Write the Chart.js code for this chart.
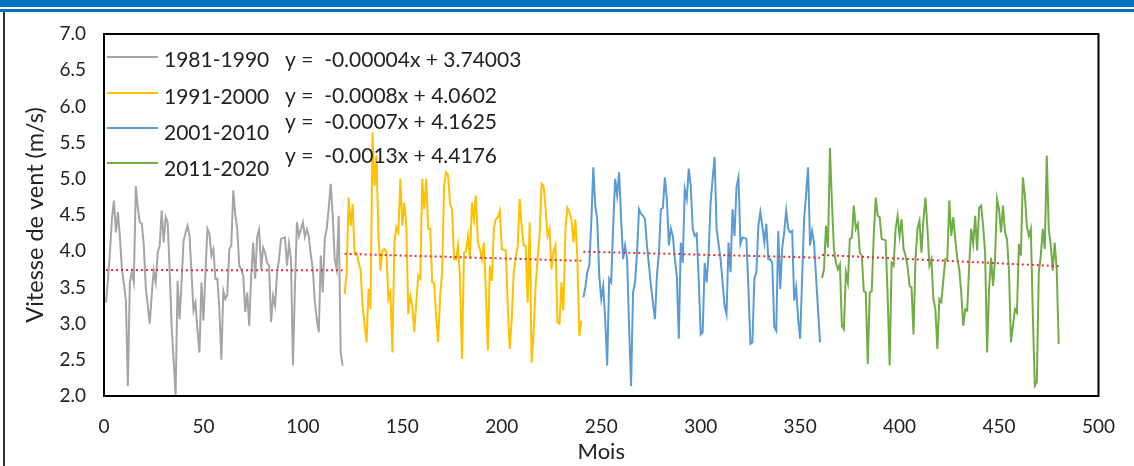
<!DOCTYPE html>
<html>
<head>
<meta charset="utf-8">
<script src="https://cdn.jsdelivr.net/npm/chart.js@4/dist/chart.umd.min.js"></script>
<style>
  html, body { margin: 0; padding: 0; background: #fff; }
  #wrap { position: relative; width: 1134px; height: 466px; overflow: hidden; }
  .bar { position: absolute; left: 0; width: 1134px; background: #0070C0; }
  #edge { position: absolute; left: 3px; top: 12px; width: 2px; height: 454px; background: #333; }
  canvas { position: absolute; left: 0; top: 0; }
</style>
</head>
<body>
<div id="wrap">
  <canvas id="windChart" width="1134" height="466"></canvas>
  <div class="bar" style="top:0;height:7px"></div>
  <div class="bar" style="top:9px;height:3px"></div>
  <div id="edge"></div>
</div>
<script>
// Monthly mean wind speed (m/s), one array per decade
const decades = ['1981-1990', '1991-2000', '2001-2010', '2011-2020'];
const decadeStart = [1, 121, 241, 361];

const wind8190 = [
  3.29, 3.6, 4.0, 4.45, 4.70, 4.26, 4.54, 4.2, 3.75, 3.55,
  3.32, 2.14, 3.57, 3.71, 3.57, 4.90, 4.6, 4.40, 4.38, 4.08,
  3.5, 3.25, 3.0, 3.4, 3.73, 3.57, 3.98, 4.08, 4.56, 4.12,
  4.47, 4.4, 3.75, 2.97, 2.5, 2.0, 3.59, 3.06, 3.57, 4.14,
  4.25, 4.35, 4.21, 3.7, 3.18, 3.29, 2.9, 2.6, 3.57, 3.04,
  3.7, 4.31, 4.24, 3.94, 4.03, 3.62, 3.62, 3.2, 2.5, 3.45,
  3.34, 3.4, 4.03, 4.08, 4.84, 4.5, 4.31, 3.8, 3.75, 3.66,
  3.16, 3.43, 2.97, 3.66, 4.12, 3.62, 4.2, 4.3, 3.75, 4.05,
  3.98, 3.84, 3.8, 3.02, 3.38, 3.25, 3.7, 3.89, 4.17, 4.18,
  4.19, 3.8, 4.1, 3.89, 2.42, 3.5, 4.4, 4.21, 4.3, 4.4,
  4.2, 4.3, 4.2, 3.94, 3.75, 3.3, 3.06, 2.88, 3.94, 3.43,
  4.17, 4.31, 4.6, 4.93, 4.49, 3.89, 3.75, 4.49, 2.6, 2.42
];

const wind9100 = [
  3.41, 3.7, 4.74, 4.35, 4.65, 3.98, 3.98, 3.85, 3.75, 3.25,
  3.0, 2.74, 3.48, 3.2, 5.64, 4.9, 5.32, 4.21, 3.73, 4.01,
  4.03, 3.98, 3.34, 3.43, 2.6, 4.12, 4.33, 4.26, 5.0, 4.35,
  4.67, 4.35, 3.13, 3.38, 3.25, 2.88, 3.3, 3.66, 3.62, 5.0,
  4.58, 5.0, 4.31, 4.31, 3.57, 3.55, 3.1, 2.74, 3.38, 3.71,
  4.9, 5.09, 5.05, 4.65, 4.58, 3.89, 3.89, 4.08, 3.62, 2.51,
  3.98, 4.0, 4.21, 3.89, 4.67, 4.44, 4.77, 4.12, 4.03, 3.89,
  4.12, 3.43, 2.63, 3.8, 3.59, 4.31, 4.44, 4.47, 4.56, 4.03,
  4.02, 4.01, 3.25, 2.65, 3.06, 3.71, 3.9, 4.08, 4.72, 4.35,
  4.08, 4.08, 3.29, 4.4, 2.46, 2.88, 3.52, 3.9, 4.21, 4.93,
  4.9, 4.6, 4.21, 4.31, 3.75, 4.0, 4.08, 3.02, 3.0, 3.57,
  3.18, 4.31, 4.6, 4.54, 4.44, 4.12, 4.44, 3.89, 2.83, 3.04
];

const wind0110 = [
  3.36, 3.5, 3.71, 3.8, 4.4, 5.16, 4.63, 4.44, 3.66, 3.34,
  3.52, 3.06, 2.42, 3.62, 3.57, 4.35, 5.0, 4.77, 5.09, 4.44,
  3.89, 4.08, 3.89, 2.97, 2.14, 3.43, 3.57, 3.98, 4.58, 4.52,
  4.49, 4.44, 4.08, 3.8, 3.52, 3.29, 3.06, 3.66, 3.98, 4.58,
  4.6, 5.02, 4.72, 4.08, 4.31, 4.21, 3.9, 3.66, 2.79, 4.12,
  3.84, 4.86, 4.72, 5.14, 4.9, 4.31, 4.21, 4.24, 3.62, 2.85,
  2.88, 3.84, 3.57, 3.98, 4.67, 5.0, 5.3, 4.31, 4.1, 3.89,
  3.57, 3.25, 3.13, 4.12, 3.71, 4.58, 4.21, 4.88, 5.02, 4.1,
  4.19, 4.18, 4.17, 3.48, 2.72, 2.74, 3.62, 3.71, 4.35, 4.54,
  4.35, 4.12, 4.38, 3.89, 3.89, 3.84, 2.95, 2.9, 4.28, 3.48,
  4.05, 4.26, 4.56, 4.31, 4.26, 4.28, 3.32, 3.5, 3.06, 2.79,
  3.62, 4.44, 4.79, 5.16, 4.08, 4.28, 4.12, 3.64, 3.2, 2.74
];

const wind1120 = [
  3.63, 3.75, 4.35, 4.05, 5.43, 4.67, 4.03, 3.84, 3.75, 3.82,
  2.97, 2.92, 3.71, 3.57, 4.17, 4.19, 4.63, 4.31, 4.38, 3.98,
  3.94, 3.45, 3.43, 2.44, 3.43, 3.45, 4.21, 4.74, 4.49, 4.47,
  4.17, 4.16, 4.15, 3.38, 2.42, 3.84, 3.8, 4.31, 4.49, 4.21,
  4.44, 4.03, 3.94, 3.8, 3.52, 3.5, 2.85, 3.89, 4.31, 4.42,
  3.98, 4.44, 4.74, 4.31, 3.8, 3.89, 3.34, 3.2, 2.65, 3.34,
  3.3, 3.6, 3.89, 3.89, 4.7, 4.21, 4.47, 4.17, 3.9, 3.75,
  3.43, 2.97, 3.2, 3.18, 3.8, 4.31, 4.1, 4.49, 4.01, 4.6,
  4.63, 4.35, 3.98, 2.6, 3.48, 3.91, 3.52, 3.89, 4.72, 4.58,
  4.26, 4.63, 4.26, 4.17, 3.73, 2.74, 2.97, 3.2, 3.15, 4.1,
  3.94, 5.02, 4.77, 4.35, 4.21, 4.31, 3.11, 2.14, 2.19, 3.71,
  3.94, 4.31, 4.03, 5.32, 4.31, 4.08, 3.73, 4.12, 3.75, 2.72
];

// Linear trend per decade (x = month number)
const trendSlope = [-0.00004, -0.0008, -0.0007, -0.0013];
const trendIntercept = [3.74003, 4.0602, 4.1625, 4.4176];
const trendText = [
  'y =  -0.00004x + 3.74003',
  'y =  -0.0008x + 4.0602',
  'y =  -0.0007x + 4.1625',
  'y =  -0.0013x + 4.4176'
];

const series = [wind8190, wind9100, wind0110, wind1120];
const lineColors = ['#A5A5A5', '#FFC000', '#5B9BD5', '#70AD47'];
const FONT = 'Lato, "Open Sans", sans-serif';
const TEXT = '#222';

const datasets = [];
series.forEach((vals, d) => {
  datasets.push({
    label: decades[d],
    data: vals.map((v, i) => ({ x: decadeStart[d] + i, y: v })),
    borderColor: lineColors[d],
    borderWidth: 2,
    pointRadius: 0,
    tension: 0,
    order: 2
  });
});
series.forEach((vals, d) => {
  const x0 = decadeStart[d];
  const x1 = decadeStart[d] + vals.length - 1;
  datasets.push({
    label: 'trend ' + decades[d],
    data: [
      { x: x0, y: trendSlope[d] * x0 + trendIntercept[d] },
      { x: x1, y: trendSlope[d] * x1 + trendIntercept[d] }
    ],
    borderColor: '#E5303A',
    borderWidth: 2,
    borderDash: [2, 3],
    pointRadius: 0,
    order: 1
  });
});

// frame round the plot area + legend with the trend equations
const framePlugin = {
  id: 'frameAndKey',
  afterDatasetsDraw(chart) {
    const { ctx, chartArea: a } = chart;
    ctx.save();
    ctx.strokeStyle = '#000';
    ctx.lineWidth = 2;
    ctx.strokeRect(a.left, a.top, a.right - a.left, a.bottom - a.top);

    const lineY = [57, 93, 128, 163];
    const labelY = [60, 97, 133, 169];
    const eqY = [60, 96, 122, 156];
    ctx.font = '21px ' + FONT;
    ctx.textBaseline = 'middle';
    ctx.fillStyle = TEXT;
    decades.forEach((name, d) => {
      ctx.strokeStyle = lineColors[d];
      ctx.lineWidth = 2;
      ctx.beginPath();
      ctx.moveTo(107, lineY[d]);
      ctx.lineTo(158, lineY[d]);
      ctx.stroke();
      ctx.fillText(name, 164, labelY[d]);
      ctx.fillText(trendText[d], 285, eqY[d]);
    });
    ctx.restore();
  }
};

new Chart(document.getElementById('windChart'), {
  type: 'line',
  data: { datasets },
  options: {
    responsive: false,
    animation: false,
    devicePixelRatio: 1,
    layout: { padding: { top: 34, right: 26, left: 0, bottom: 0 } },
    plugins: { legend: { display: false }, tooltip: { enabled: false } },
    scales: {
      x: {
        type: 'linear',
        min: 0,
        max: 500,
        ticks: { stepSize: 50, padding: 19, color: TEXT, font: { family: FONT, size: 19 } },
        grid: { display: false, drawTicks: false },
        border: { display: false },
        title: { display: true, text: 'Mois', color: TEXT, font: { family: FONT, size: 22 }, padding: { top: 0, bottom: 1 } },
        afterFit: s => { s.height = 70; }
      },
      y: {
        min: 2,
        max: 7,
        ticks: { stepSize: 0.5, padding: 18, color: TEXT, font: { family: FONT, size: 19 }, callback: v => v.toFixed(1) },
        grid: { display: false, drawTicks: false },
        border: { display: false },
        title: { display: true, text: 'Vitesse de vent (m/s)', color: TEXT, font: { family: FONT, size: 23.5 }, padding: { top: 21, bottom: 0 } },
        afterFit: s => { s.width = 104; }
      }
    }
  },
  plugins: [framePlugin]
});
</script>
</body>
</html>
